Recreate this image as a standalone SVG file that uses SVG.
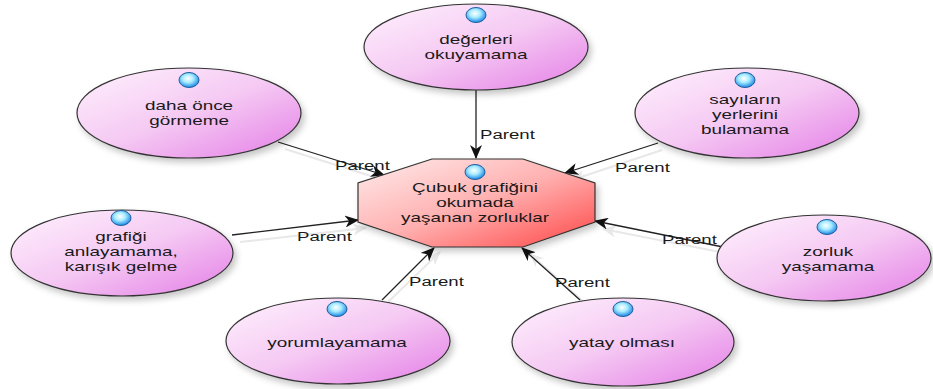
<svg xmlns="http://www.w3.org/2000/svg" width="933" height="389" viewBox="0 0 933 389">
<style>
.t{font-family:"Liberation Sans",Arial,sans-serif;font-size:13.5px;fill:#1a1a1a;text-anchor:middle}
.l{font-family:"Liberation Sans",Arial,sans-serif;font-size:13.5px;fill:#1a1a1a;text-anchor:start}
.el{fill:url(#pink);stroke:#333;stroke-width:1.2;filter:url(#sh)}
.oc{fill:url(#red);stroke:#333;stroke-width:1.2;filter:url(#sh)}
.dot{fill:url(#blue);stroke:#1f5f9f;stroke-width:1}
.cn{stroke:#222;stroke-width:1.3;fill:none;marker-end:url(#ah)}
.cs{stroke:#e8e8e8;stroke-width:2;fill:none;marker-end:url(#ahs)}
</style>
<defs>
<linearGradient id="pink" x1="0" y1="0" x2="1" y2="1">
<stop offset="0" stop-color="#fff2fd"/>
<stop offset="0.5" stop-color="#f5c9f3"/>
<stop offset="1" stop-color="#e47ee6"/>
</linearGradient>
<linearGradient id="red" x1="0" y1="0" x2="1" y2="1">
<stop offset="0" stop-color="#ffecec"/>
<stop offset="0.5" stop-color="#ffb0b0"/>
<stop offset="1" stop-color="#ff4646"/>
</linearGradient>
<radialGradient id="blue" cx="0.45" cy="0.4" r="0.6">
<stop offset="0" stop-color="#ffffff"/>
<stop offset="0.45" stop-color="#a8ecff"/>
<stop offset="1" stop-color="#1c86e6"/>
</radialGradient>
<filter id="sh" x="-20%" y="-20%" width="140%" height="150%">
<feDropShadow dx="3" dy="4" stdDeviation="3" flood-color="#000" flood-opacity="0.22"/>
</filter>
<marker id="ah" viewBox="0 0 14 12" refX="13" refY="6" markerWidth="14" markerHeight="12" markerUnits="userSpaceOnUse" orient="auto">
<path d="M0,0 L14,6 L0,12 L4,6 Z" fill="#111"/>
</marker>
<marker id="ahs" viewBox="0 0 14 12" refX="13" refY="6" markerWidth="14" markerHeight="12" markerUnits="userSpaceOnUse" orient="auto">
<path d="M0,0 L14,6 L0,12 L4,6 Z" fill="#e8e8e8"/>
</marker>
</defs>

<g id="connectors">
<line class="cs" x1="240" y1="242" x2="366" y2="228"/>
<line class="cs" x1="730" y1="254" x2="603" y2="229"/>
<line class="cs" x1="388" y1="302" x2="440" y2="252"/>
<line class="cs" x1="586" y1="304" x2="530" y2="254"/>
<line class="cs" x1="285" y1="149" x2="390" y2="182"/>
<line class="cs" x1="662" y1="150" x2="572" y2="180"/>
<line class="cn" x1="476" y1="90" x2="476" y2="158"/>
<line class="cn" x1="278" y1="142" x2="384" y2="175"/>
<line class="cn" x1="658" y1="143" x2="565" y2="173"/>
<line class="cn" x1="232" y1="235" x2="358" y2="220"/>
<line class="cn" x1="723" y1="247" x2="595" y2="221"/>
<line class="cn" x1="382" y1="300" x2="434" y2="248"/>
<line class="cn" x1="580" y1="300" x2="522" y2="248"/>
<text class="l" transform="translate(480,0) scale(1.38,1)" x="0" y="139">Parent</text>
<text class="l" transform="translate(335,0) scale(1.38,1)" x="0" y="170">Parent</text>
<text class="l" transform="translate(615,0) scale(1.38,1)" x="0" y="172">Parent</text>
<text class="l" transform="translate(297,0) scale(1.38,1)" x="0" y="241">Parent</text>
<text class="l" transform="translate(662,0) scale(1.38,1)" x="0" y="244">Parent</text>
<text class="l" transform="translate(409,0) scale(1.38,1)" x="0" y="286">Parent</text>
<text class="l" transform="translate(555,0) scale(1.38,1)" x="0" y="287">Parent</text>
</g>

<g id="center">
<polygon class="oc" points="432,159 523,159 595,183 595,222 523,247 432,247 358,222 358,183"/>
<ellipse class="dot" cx="475" cy="172" rx="10" ry="7.5"/>
<text class="t" transform="translate(475,0) scale(1.4,1)"><tspan x="0" y="192">Çubuk grafiğini</tspan><tspan x="0" y="207">okumada</tspan><tspan x="0" y="222">yaşanan zorluklar</tspan></text>
</g>

<g id="node-degerleri">
<ellipse class="el" cx="476" cy="47" rx="112" ry="43"/>
<ellipse class="dot" cx="476" cy="15" rx="10" ry="7.5"/>
<text class="t" transform="translate(476,0) scale(1.4,1)"><tspan x="0" y="44">değerleri</tspan><tspan x="0" y="59.5">okuyamama</tspan></text>
</g>

<g id="node-daha">
<ellipse class="el" cx="189" cy="113" rx="112" ry="45"/>
<ellipse class="dot" cx="189" cy="80" rx="10" ry="7.5"/>
<text class="t" transform="translate(189,0) scale(1.4,1)"><tspan x="0" y="110">daha önce</tspan><tspan x="0" y="125.5">görmeme</tspan></text>
</g>

<g id="node-sayilarin">
<ellipse class="el" cx="747" cy="113" rx="112" ry="45"/>
<ellipse class="dot" cx="745" cy="80" rx="10" ry="7.5"/>
<text class="t" transform="translate(745,0) scale(1.4,1)"><tspan x="0" y="104">sayıların</tspan><tspan x="0" y="119">yerlerini</tspan><tspan x="0" y="134">bulamama</tspan></text>
</g>

<g id="node-grafigi">
<ellipse class="el" cx="122" cy="253" rx="111" ry="43"/>
<ellipse class="dot" cx="121" cy="218" rx="10" ry="7.5"/>
<text class="t" transform="translate(121,0) scale(1.4,1)"><tspan x="0" y="241">grafiği</tspan><tspan x="0" y="256">anlayamama,</tspan><tspan x="0" y="271">karışık gelme</tspan></text>
</g>

<g id="node-zorluk">
<ellipse class="el" cx="824" cy="258" rx="107" ry="43"/>
<ellipse class="dot" cx="827" cy="227" rx="10" ry="7.5"/>
<text class="t" transform="translate(828,0) scale(1.4,1)"><tspan x="0" y="256">zorluk</tspan><tspan x="0" y="271">yaşamama</tspan></text>
</g>

<g id="node-yorumlayamama">
<ellipse class="el" cx="338" cy="341" rx="112" ry="43"/>
<ellipse class="dot" cx="337" cy="309" rx="10" ry="7.5"/>
<text class="t" transform="translate(337,0) scale(1.4,1)" x="0" y="347">yorumlayamama</text>
</g>

<g id="node-yatay">
<ellipse class="el" cx="623" cy="342" rx="111" ry="44"/>
<ellipse class="dot" cx="623" cy="309" rx="10" ry="7.5"/>
<text class="t" transform="translate(622,0) scale(1.4,1)" x="0" y="347">yatay olması</text>
</g>
</svg>
